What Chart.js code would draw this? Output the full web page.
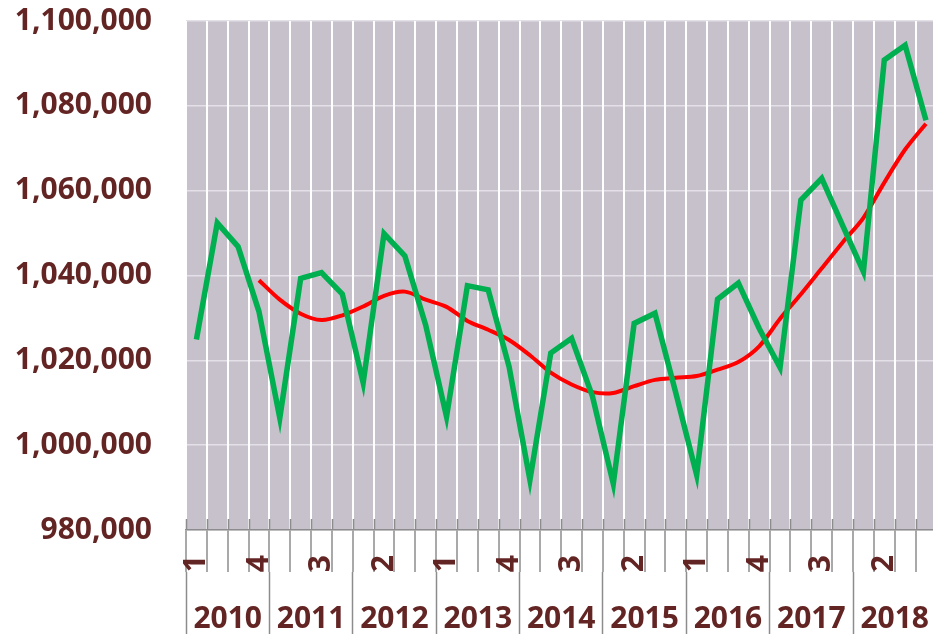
<!DOCTYPE html>
<html>
<head>
<meta charset="utf-8">
<script src="https://cdn.jsdelivr.net/npm/chart.js@4.4.1/dist/chart.umd.min.js"></script>
<style>
    html, body { margin: 0; padding: 0; overflow: hidden; background: #ffffff; }
    #wrap { width: 945px; height: 634px; }
</style>
</head>
<body>
<div id="wrap"><canvas id="popChart" width="945" height="634"></canvas></div>
<script>
// ===============================
// DATA
// ===============================
const years = ["2010", "2011", "2012", "2013", "2014", "2015", "2016", "2017", "2018"];

const quarterLabels = [
    "1", "2", "3", "4", "1", "2", "3", "4", "1", "2", "3", "4",
    "1", "2", "3", "4", "1", "2", "3", "4", "1", "2", "3", "4",
    "1", "2", "3", "4", "1", "2", "3", "4", "1", "2", "3", "4"
];

// quarterly values (green)
const quarterlyValues = [
    1024900, 1052400, 1046800, 1031500,
    1006400, 1039300, 1040700, 1035600,
    1014700, 1049900, 1044600, 1028300,
    1006700, 1037600, 1036600, 1018500,
    991800, 1021700, 1025200, 1011500,
    990900, 1028700, 1031100, 1012300,
    993000, 1034400, 1038200, 1027500,
    1018300, 1057800, 1062900, 1051800,
    1040900, 1090800, 1094300, 1076600
];

// trend line (red), starts in the 4th quarter of 2010
const trendValues = [
    null, null, null, 1038900,
    1034300, 1031000, 1029500, 1030600,
    1032700, 1035200, 1036200, 1034300,
    1032600, 1029300, 1027200, 1024800,
    1021200, 1017100, 1014300, 1012500,
    1012300, 1013900, 1015400, 1015900,
    1016300, 1017800, 1019600, 1023300,
    1029800, 1035600, 1041700, 1047800,
    1053600, 1061900, 1069700, 1075800
];

const yMin = 980000;
const yMax = 1100000;
const yStep = 20000;

// ===============================
// STYLE
// ===============================
const labelColor = "#632523";
const labelFont = { family: "'Open Sans', sans-serif", size: 30, weight: "bold" };
const tickGray = "#8c8c8c";

// plot area background
const plotBackground = {
    id: "plotBackground",
    beforeDraw(chart) {
        const { ctx, chartArea } = chart;
        ctx.save();
        ctx.fillStyle = "#c6c1cb";
        ctx.fillRect(chartArea.left, chartArea.top, chartArea.right - chartArea.left, chartArea.bottom - chartArea.top);
        ctx.restore();
    }
};

// tick marks crossing the axis (short piece above the axis line)
const crossTicks = {
    id: "crossTicks",
    afterDraw(chart) {
        const { ctx, chartArea } = chart;
        const xs = chart.scales.x;
        ctx.save();
        ctx.strokeStyle = tickGray;
        ctx.lineWidth = 1.5;
        ctx.beginPath();
        for (let i = 0; i <= quarterLabels.length; i++) {
            const px = Math.round(xs.getPixelForValue(i - 0.5)) + 0.5;
            ctx.moveTo(px, chartArea.bottom - 11);
            ctx.lineTo(px, chartArea.bottom);
        }
        ctx.stroke();
        ctx.restore();
    }
};

// ===============================
// CHART
// ===============================
const ctx = document.getElementById("popChart").getContext("2d");

new Chart(ctx, {
    type: "line",
    data: {
        labels: quarterLabels,
        datasets: [
            {
                data: quarterlyValues,
                borderColor: "#00b050",
                borderWidth: 5.5,
                pointRadius: 0,
                tension: 0,
                fill: false
            },
            {
                data: trendValues,
                borderColor: "#ff0000",
                borderWidth: 4,
                pointRadius: 0,
                tension: 0.3,
                fill: false
            }
        ]
    },
    options: {
        responsive: false,
        animation: false,
        layout: { padding: { top: 21, right: 3, left: 0, bottom: 0 } },
        plugins: {
            legend: { display: false },
            tooltip: { enabled: false }
        },
        scales: {
            y: {
                min: yMin,
                max: yMax,
                afterFit: (s) => {
                    s.width = 186;
                    // label padding should not push the plot down
                    s.paddingTop = 0;
                    s.paddingBottom = 0;
                },
                ticks: {
                    stepSize: yStep,
                    padding: 34,
                    color: labelColor,
                    font: labelFont,
                    callback: (v) => Number(v).toLocaleString("en-US")
                },
                grid: { color: "#e4e0e8", lineWidth: 1.5, drawTicks: false },
                border: { display: false }
            },
            x: {
                type: "category",
                position: "bottom",
                offset: true,
                afterFit: (s) => { s.height = 42; },
                grid: {
                    offset: true,
                    color: "#ffffff",
                    lineWidth: 2,
                    tickColor: tickGray,
                    tickWidth: 1.5,
                    tickLength: 42
                },
                border: { display: true, color: tickGray, width: 1.5 },
                ticks: {
                    autoSkip: false,
                    minRotation: 90,
                    maxRotation: 90,
                    padding: -17,
                    color: labelColor,
                    font: labelFont,
                    callback: (v, i) => (i % 3 === 0 ? quarterLabels[i] : "")
                }
            },
            x2: {
                type: "category",
                position: "bottom",
                labels: years,
                offset: true,
                afterFit: (s) => { s.height = 62; },
                grid: {
                    offset: true,
                    drawOnChartArea: false,
                    tickColor: tickGray,
                    tickWidth: 1.5,
                    tickLength: 62
                },
                border: { display: false },
                ticks: {
                    autoSkip: false,
                    maxRotation: 0,
                    padding: -33,
                    color: labelColor,
                    font: labelFont
                }
            }
        }
    },
    plugins: [plotBackground, crossTicks]
});
</script>
</body>
</html>
